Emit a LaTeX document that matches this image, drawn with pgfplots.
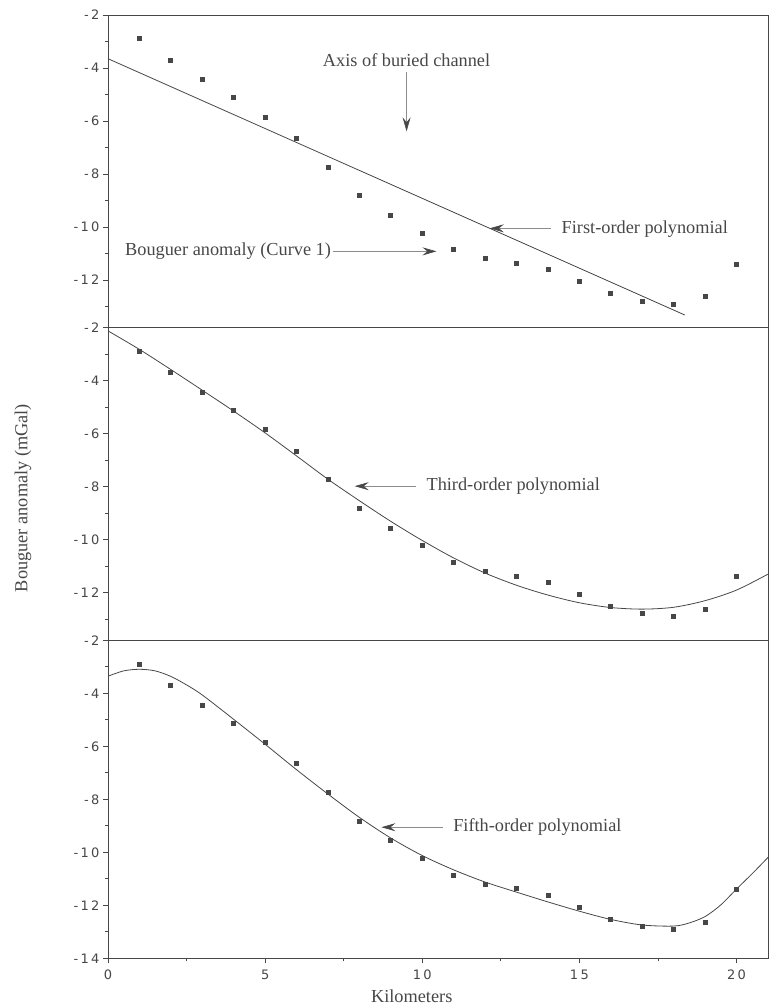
\documentclass[border=0pt]{standalone}
\usepackage{pgfplots}
\usepackage{pgfplotstable}
\pgfplotsset{compat=1.18}
\usepackage{fontspec}
\setmainfont{Liberation Serif}
\newfontfamily\tickfont[LetterSpace=18]{DejaVu Sans}
\usetikzlibrary{arrows.meta}
\definecolor{ink}{gray}{0.28}
\definecolor{arr}{gray}{0.55}

\pgfplotstableread{
x y
1 -2.90
2 -3.70
3 -4.44
4 -5.12
5 -5.85
6 -6.66
7 -7.74
8 -8.82
9 -9.56
10 -10.23
11 -10.86
12 -11.20
13 -11.37
14 -11.61
15 -12.06
16 -12.51
17 -12.80
18 -12.91
19 -12.63
20 -11.40
}\anomaly

\pgfplotstableread{
x y
0 -2.12
1 -2.82
2 -3.58
3 -4.36
4 -5.15
5 -5.97
6 -6.84
7 -7.72
8 -8.53
9 -9.31
10 -10.03
11 -10.69
12 -11.26
13 -11.72
14 -12.09
15 -12.38
16 -12.56
17 -12.62
18 -12.55
19 -12.30
20 -11.90
21 -11.30
}\third

\pgfplotstableread{
x y
0 -3.35
0.5 -3.15
1 -3.09
1.5 -3.15
2 -3.36
2.5 -3.68
3 -4.06
4 -4.98
5 -5.92
6 -6.88
7 -7.80
8 -8.68
9 -9.46
10 -10.12
11 -10.66
12 -11.12
13 -11.50
14 -11.87
15 -12.22
16 -12.53
17 -12.74
18 -12.78
18.5 -12.66
19 -12.42
19.5 -11.98
20 -11.38
20.5 -10.80
21 -10.19
}\fifth

\tikzset{
  lab/.style={font=\fontsize{18.3}{20}\selectfont, text=ink, inner sep=0pt},
  arw/.style={arr, line width=0.6pt, -{Stealth[length=14pt,width=8pt,inset=5pt,color=ink]}},
}
\pgfplotsset{
  panel/.style={
    scale only axis, width=660pt,
    xmin=0, xmax=21, ymax=-2,
    axis line style={ink, line width=0.9pt},
    tick style={ink, line width=0.8pt},
    tick align=outside,
    major tick length=5pt, minor tick length=3pt,
    xtick pos=bottom, ytick pos=left,
    ytick={-2,-4,...,-14}, minor ytick={-3,-5,...,-13},
    xtick={0,5,...,20}, minor xtick={2.5,7.5,12.5,17.5},
    tick label style={font=\tickfont\fontsize{13}{15}\selectfont, text=ink},
    xticklabel style={yshift=-3pt},
    /pgf/number format/assume math mode=true,
    every axis plot/.append style={ink, line width=0.8pt},
  },
}

\begin{document}
\begin{tikzpicture}
\useasboundingbox (0,0) rectangle (775pt,1007pt);

% bottom panel: fifth order
\begin{axis}[panel, at={(108pt,48.6pt)}, anchor=south west,
  height=318pt, ymin=-14]
  \addplot[only marks, mark=square*, mark size=2pt, ink] table {\anomaly};
  \addplot[smooth, ink, line width=0.8pt] table {\fifth};
  \draw[arw] (axis cs:10.66,-9.05) -- (axis cs:8.70,-9.05);
  \node[lab, anchor=west] at (axis cs:10.98,-9.05) {Fifth-order polynomial};
\end{axis}

% middle panel: third order
\begin{axis}[panel, at={(108pt,366.6pt)}, anchor=south west,
  height=312.7pt, ymin=-13.8, xtick=\empty, minor xtick=\empty]
  \addplot[only marks, mark=square*, mark size=2pt, ink] table {\anomaly};
  \addplot[smooth, ink, line width=0.8pt] table {\third};
  \draw[arw] (axis cs:9.81,-7.98) -- (axis cs:7.85,-7.98);
  \node[lab, anchor=west] at (axis cs:10.13,-7.98) {Third-order polynomial};
\end{axis}

% top panel: first order
\begin{axis}[panel, at={(108pt,679.3pt)}, anchor=south west,
  height=312.7pt, ymin=-13.8, xtick=\empty, minor xtick=\empty]
  \addplot[only marks, mark=square*, mark size=2pt, ink] table {\anomaly};
  \addplot[ink, line width=0.8pt] coordinates {(0,-3.65) (18.35,-13.32)};
  \node[lab] at (axis cs:9.5,-3.69) {Axis of buried channel};
  \draw[arw] (axis cs:9.5,-4.17) -- (axis cs:9.5,-6.39);
  \draw[arw] (axis cs:14.1,-10.05) -- (axis cs:12.15,-10.05);
  \node[lab, anchor=west] at (axis cs:14.43,-10.08) {First-order polynomial};
  \node[lab, anchor=west] at (axis cs:0.54,-10.92) {Bouguer anomaly (Curve 1)};
  \draw[arw] (axis cs:7.15,-10.92) -- (axis cs:10.45,-10.92);
\end{axis}

\node[lab, rotate=90] at (23pt,509pt) {Bouguer anomaly (mGal)};
\node[lab] at (411.7pt,11pt) {Kilometers};
\end{tikzpicture}
\end{document}
